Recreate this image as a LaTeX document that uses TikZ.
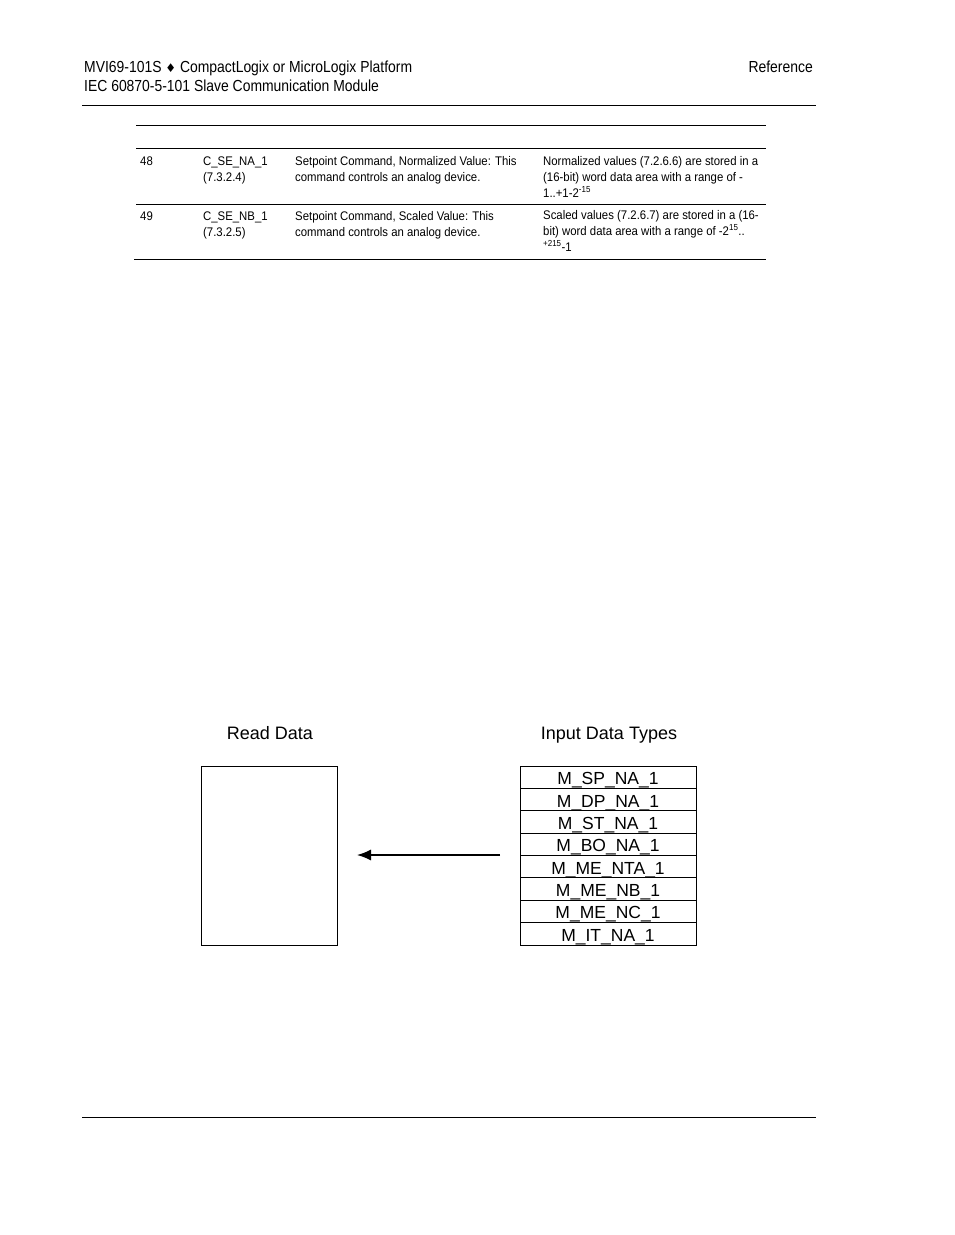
\documentclass[tikz,border=0pt]{standalone}
\usepackage{fontspec}
\usetikzlibrary{arrows.meta}
\setmainfont{Liberation Sans}
\newfontfamily\narrowfont[FakeStretch=0.87]{Liberation Sans}
\newfontfamily\tblfont[FakeStretch=0.91]{Liberation Sans}
\newfontfamily\symfont{DejaVu Sans}
\begin{document}
\begin{tikzpicture}[x=1pt,y=-1pt,
  hdr/.style={inner sep=0pt,font=\narrowfont\fontsize{16}{19}\selectfont},
  tbl/.style={inner sep=0pt,anchor=base west,align=left,font=\tblfont\fontsize{12.5}{16}\selectfont},
  ttl/.style={inner sep=0pt,anchor=base,font=\fontsize{18}{21}\selectfont},
  cell/.style={draw,line width=1pt,minimum width=176pt,minimum height=22.375pt,inner sep=0pt,font=\fontsize{17.5}{20}\selectfont},
  rule/.style={line width=0.9pt}]
\useasboundingbox (0,0) rectangle (954,1235);
% header
\node[hdr,anchor=base west] (h1) at (84,72) {MVI69-101S {\symfont\fontsize{12}{13}\selectfont ♦} CompactLogix or MicroLogix Platform};
\node[hdr,anchor=base west] (h2) at (84,91) {IEC 60870-5-101 Slave Communication Module};
\node[hdr,anchor=base east] (h3) at (813,72) {Reference};
\draw[rule] (82,105) -- (816,105);
\draw[rule] (82,1117) -- (816,1117);
% table
\draw[line width=0.8pt] (136,125) -- (766,125);
\draw[line width=0.8pt] (136,148) -- (766,148);
\draw[line width=0.8pt] (136,204) -- (766,204);
\draw[line width=0.8pt] (134,259) -- (766,259);
\node[tbl] (r1a) at (140,165) {48};
\node[tbl] (r1b) at (203,181) {C\_SE\_NA\_1\\(7.3.2.4)};
\node[tbl] (r1c) at (295,181) {Setpoint Command, Normalized Value: This\\command controls an analog device.};
\node[tbl] (r1d) at (543,197) {Normalized values (7.2.6.6) are stored in a\\(16-bit) word data area with a range of -\\1..+1-2\textsuperscript{-15}};
\node[tbl] (r2a) at (140,220) {49};
\node[tbl] (r2b) at (203,236) {C\_SE\_NB\_1\\(7.3.2.5)};
\node[tbl] (r2c) at (295,236) {Setpoint Command, Scaled Value: This\\command controls an analog device.};
\node[tbl] (r2d) at (543,251) {Scaled values (7.2.6.7) are stored in a (16-\\bit) word data area with a range of -2\textsuperscript{15}..\\\textsuperscript{+215}-1};
% diagram
\node[ttl] (t1) at (270,739) {Read Data};
\node[ttl] (t2) at (609,739) {Input Data Types};
\node[draw,line width=1pt,minimum width=136pt,minimum height=179pt,inner sep=0pt] (rd) at (269,855.5) {};
\foreach \i/\lab in {0/M\_SP\_NA\_1,1/M\_DP\_NA\_1,2/M\_ST\_NA\_1,3/M\_BO\_NA\_1,4/M\_ME\_NTA\_1,5/M\_ME\_NB\_1,6/M\_ME\_NC\_1,7/M\_IT\_NA\_1}{
  \node[cell,text depth=0pt,text height=15pt] (c\i) at (608,{777.19+22.375*\i}) {\lab};
}
\coordinate (as) at (500,855);
\coordinate (ae) at (357,855);
\draw[line width=1.3pt,-{Latex[length=14pt,width=11pt]}] (as) -- (ae);
\end{tikzpicture}
\end{document}
